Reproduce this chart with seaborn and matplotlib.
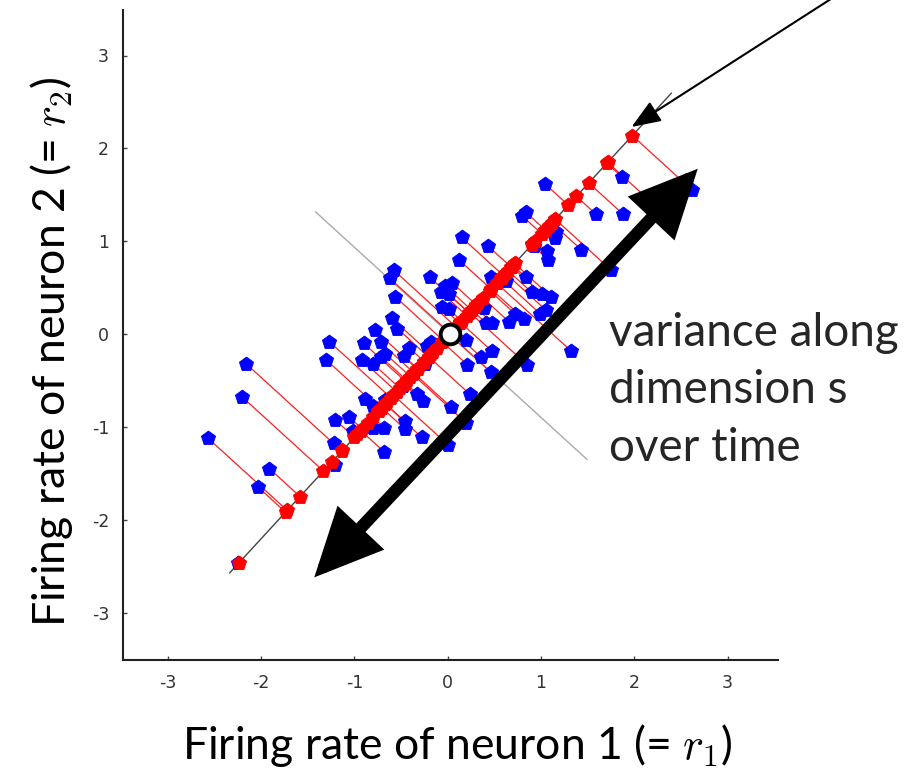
import numpy as np
import pandas as pd
import matplotlib
matplotlib.use("Agg")
import matplotlib.pyplot as plt
import seaborn as sns

# ---- data ----
blue_x = [1.04, 1.87, 2.15, 1.59, 1.88, 0.80, 0.84, 1.16, 1.15, 0.92, 1.06, 1.08, 1.43,
          0.15, 0.43, 0.12, -0.58, -0.62, -0.19, -0.56, -0.03, 0.05, -0.07, 0.01, 0.46,
          0.62, 0.84, 0.90, 1.01, 1.11, 1.75, -0.06, 0.01, 0.39, 0.72, 0.99, 1.05, 0.66,
          0.82, 0.41, 0.48, -0.60, -0.54, -0.78, 0.20, 1.32, -0.18, -0.22, -1.27, -0.90,
          -0.72, -1.30, -0.92, -0.80, -0.67, -0.71, -0.47, -0.41, -0.24, 0.21, 0.36, 0.47,
          0.46, 0.85, -2.16, -2.20, -2.57, -1.91, -2.03, -2.25, -1.22, -1.06, -1.21, -1.01,
          -1.21, -0.89, -0.67, -0.33, -0.27, -0.48, -0.46, -0.46, -0.28, -0.68, -0.80,
          -0.68, -0.80, 0.24, 0.04, 0.20, 0.00, 2.62]
blue_y = [1.62, 1.69, 1.45, 1.29, 1.29, 1.27, 1.31, 1.10, 1.03, 0.95, 0.89, 0.80, 0.91,
          1.04, 0.95, 0.80, 0.69, 0.60, 0.61, 0.40, 0.52, 0.55, 0.45, 0.43, 0.61,
          0.57, 0.61, 0.45, 0.43, 0.40, 0.69, 0.29, 0.27, 0.28, 0.22, 0.22, 0.26, 0.13,
          0.16, 0.12, 0.12, 0.17, 0.06, 0.04, -0.06, -0.18, -0.09, -0.13, -0.08, -0.10,
          -0.09, -0.28, -0.28, -0.32, -0.21, -0.25, -0.24, -0.15, -0.32, -0.33, -0.25, -0.18,
          -0.41, -0.33, -0.32, -0.68, -1.12, -1.45, -1.65, -2.46, -1.17, -0.89, -0.92, -1.04,
          -1.41, -0.70, -0.71, -0.64, -0.72, -0.56, -0.94, -1.02, -1.11, -1.27, -1.01,
          -1.01, -0.77, -0.65, -0.79, -0.96, -1.19, 1.55]
axis_angle_deg = 47.5          # direction of dimension s
center = [0.02, 0.0]           # mean (white circle)
axis_extent = [-3.49, 3.52]    # extent of main axis line along s
perp_extent = [-2.0, 1.95]     # extent of perpendicular line
ticks = [-3, -2, -1, 0, 1, 2, 3]
xlim = [-3.48, 3.54]
ylim = [-3.51, 3.49]

xlabel = r"Firing rate of neuron 1 (= $r_1$)"
ylabel = r"Firing rate of neuron 2 (= $r_2$)"
note = "variance along\ndimension s\nover time"

# ---- derived projections ----
th = np.deg2rad(axis_angle_deg)
u = np.array([np.cos(th), np.sin(th)])
v = np.array([-np.sin(th), np.cos(th)])
c = np.array(center)
B = np.column_stack([blue_x, blue_y])
t = (B - c) @ u
P = c + np.outer(t, u)
df_blue = pd.DataFrame({"x": B[:, 0], "y": B[:, 1]})
df_red = pd.DataFrame({"x": P[:, 0], "y": P[:, 1]})

sns.set_theme(style="white")
plt.rcParams["mathtext.fontset"] = "cm"

fig = plt.figure(figsize=(9.05, 7.75), dpi=100)
ax = fig.add_axes([123/905, 1-660/775, 655/905, 650/775])

# main axis line and perpendicular
a_pts = c + np.outer(axis_extent, u)
ax.plot(a_pts[:, 0], a_pts[:, 1], color="#444444", lw=1.0, zorder=1)
p_pts = c + np.outer(perp_extent, v)
ax.plot(p_pts[:, 0], p_pts[:, 1], color="#aaaaaa", lw=1.0, zorder=1)

# projection lines
for (bx, by), (px, py) in zip(B, P):
    ax.plot([bx, px], [by, py], color="#ff2020", lw=0.9, zorder=2)

sns.scatterplot(data=df_blue, x="x", y="y", ax=ax, marker="p", s=115,
                color="#0000ff", edgecolor="#0000ff", linewidth=0.6, zorder=3)
sns.scatterplot(data=df_red, x="x", y="y", ax=ax, marker="p", s=115,
                color="#ff0000", edgecolor="#ff0000", linewidth=0.6, zorder=4)
ax.scatter([center[0]], [center[1]], s=200, marker="o", facecolor="white",
           edgecolor="black", linewidth=2.8, zorder=6)

# thick double arrow
ax.annotate("", xy=(-1.43, -2.62), xytext=(2.68, 1.78),
            arrowprops=dict(arrowstyle="<|-|>,head_length=1.7,head_width=0.8",
                            lw=9, color="black", mutation_scale=20,
                            shrinkA=0, shrinkB=0, joinstyle="miter"),
            zorder=7)
# thin pointer arrow
ax.annotate("", xy=(1.97, 2.23), xycoords="data",
            xytext=(0.923, 1.005), textcoords="figure fraction",
            arrowprops=dict(arrowstyle="-|>,head_length=0.9,head_width=0.35",
                            lw=1.5, color="black", mutation_scale=20,
                            shrinkA=0, shrinkB=0),
            annotation_clip=False, zorder=8)

ax.text(609/905, 1-(312)/775, note, transform=fig.transFigure,
        fontsize=33, family="Lato", va="top", ha="left", linespacing=1.45)

ax.set_xlim(xlim)
ax.set_ylim(ylim)
ax.set_xticks(ticks)
ax.set_yticks(ticks)
ax.set_xticklabels([str(v_) for v_ in ticks])
ax.set_yticklabels([str(v_) for v_ in ticks])
ax.tick_params(direction="in", length=3, width=1, color="#444444",
               labelsize=12.5, labelcolor="#333333", pad=10,
               bottom=True, left=True)
for s in ["top", "right"]:
    ax.spines[s].set_visible(False)
for s in ["left", "bottom"]:
    ax.spines[s].set_color("#222222")
    ax.spines[s].set_linewidth(1.5)

ax.set_xlabel(xlabel, fontsize=32, family="Lato", color="black")
ax.set_ylabel(ylabel, fontsize=32, family="Lato", color="black")
ax.xaxis.set_label_coords(0.51, -0.095)
ax.yaxis.set_label_coords(-0.074, 0.474)

fig.savefig("out.png", dpi=100)
